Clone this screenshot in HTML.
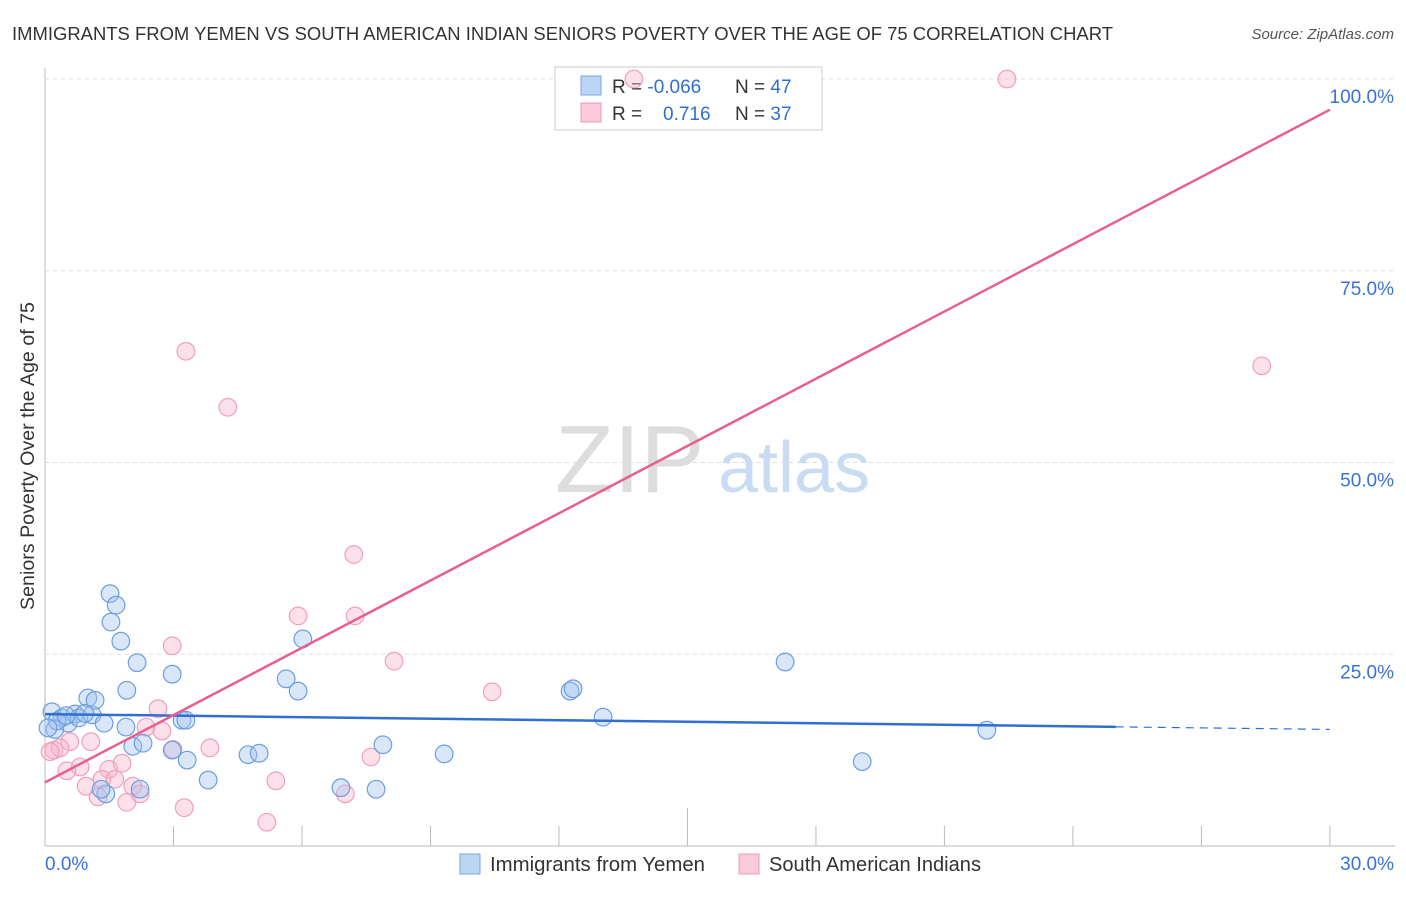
<!DOCTYPE html>
<html><head><meta charset="utf-8"><style>
body{margin:0;background:#fff;font-family:"Liberation Sans",sans-serif}
svg text{font-family:"Liberation Sans",sans-serif}
</style></head><body>
<svg width="1406" height="892">
<text x="12" y="40" font-size="18" fill="#333" textLength="1101" lengthAdjust="spacingAndGlyphs">IMMIGRANTS FROM YEMEN VS SOUTH AMERICAN INDIAN SENIORS POVERTY OVER THE AGE OF 75 CORRELATION CHART</text>
<text x="1394" y="39" font-size="15" fill="#555" text-anchor="end" font-style="italic">Source: ZipAtlas.com</text>
<text transform="translate(34,456) rotate(-90)" font-size="19" fill="#333" text-anchor="middle" textLength="308" lengthAdjust="spacingAndGlyphs">Seniors Poverty Over the Age of 75</text>
<g id="grid"></g>
<text x="555" y="492" font-size="96" fill="#ddd" font-family="Liberation Serif">ZIP</text>
<text x="718" y="492" font-size="72" fill="#c9dcf2">atlas</text>
<g>
<rect x="555" y="67" width="267" height="63" fill="#fff" stroke="#ccc"/>
<rect x="581" y="76" width="20" height="19" fill="#bcd5f5" stroke="#7aa6e0"/>
<rect x="581" y="103" width="20" height="19" fill="#fccbda" stroke="#ec9ab5"/>
<text x="612" y="93" font-size="19" fill="#333">R = <tspan fill="#2f6fd0">-0.066</tspan><tspan x="735">N = </tspan><tspan fill="#2f6fd0">47</tspan></text>
<text x="612" y="120" font-size="19" fill="#333">R = <tspan fill="#2f6fd0" x="663">0.716</tspan><tspan x="735">N = </tspan><tspan fill="#2f6fd0">37</tspan></text>
</g>
<g id="pts"></g>
<g id="lines"></g>
<g>
<rect x="460" y="854" width="20" height="20" fill="#bcd5f5" stroke="#7aa6e0"/>
<text x="490" y="871" font-size="20" fill="#333" textLength="215" lengthAdjust="spacingAndGlyphs">Immigrants from Yemen</text>
<rect x="739" y="854" width="20" height="20" fill="#fccbda" stroke="#ec9ab5"/>
<text x="769" y="871" font-size="20" fill="#333" textLength="212" lengthAdjust="spacingAndGlyphs">South American Indians</text>
</g>
<text x="45" y="870" font-size="19" fill="#3a73d0">0.0%</text>
<text x="1394" y="870" font-size="19" fill="#3a73d0" text-anchor="end">30.0%</text>
</svg>
<script>
const yTicks=[25,50,75,100];
const yTickLabels=["25.0%","50.0%","75.0%","100.0%"];
const xTicks=[3,6,9,12,15,18,21,24,27,30];
const blueX=[0.16,0.4,0.54,0.7,0.79,1.1,1.0,1.17,1.38,1.54,1.52,1.66,1.77,1.91,2.15,1.89,2.05,2.29,2.22,1.42,1.31,2.97,2.97,3.2,3.29,3.32,3.81,4.74,5.0,5.63,5.91,6.02,6.91,7.73,7.89,9.32,12.26,12.33,13.03,17.28,19.08,21.99,0.23,0.28,0.07,0.49,0.93];
const blueY=[17.5,16.7,16.0,17.2,16.7,17.1,19.3,19.0,16.0,29.2,32.9,31.4,26.7,20.3,23.9,15.5,13.0,13.4,7.4,6.8,7.4,22.4,12.5,16.4,16.4,11.2,8.6,11.9,12.1,21.8,20.2,27.0,7.6,7.4,13.2,12.0,20.2,20.5,16.8,24.0,11.0,15.1,15.2,16.3,15.4,17.0,17.3];
const pinkX=[3.29,4.27,7.21,5.91,7.24,2.97,8.15,10.44,2.64,2.36,2.73,0.58,1.07,0.21,0.35,0.82,0.51,0.96,1.24,1.49,1.33,1.63,1.8,1.91,2.05,2.22,2.99,3.85,3.25,5.39,5.18,7.01,7.61,22.46,28.41,13.75,0.12];
const pinkY=[64.5,57.2,38.0,30.0,30.0,26.1,24.1,20.1,17.9,15.5,15.0,13.6,13.6,12.5,12.8,10.3,9.8,7.8,6.4,10.0,8.7,8.7,10.8,5.7,7.8,6.8,12.6,12.8,5.0,8.5,3.1,6.8,11.6,100.0,62.6,100.0,12.3];
const blueTrend=[17.2,15.2];
const pinkTrend=[8.3,96.0];
const X=v=>45+v*42.83, Y=v=>846-v*7.67;
const NS="http://www.w3.org/2000/svg";
function mk(t,a,p){const e=document.createElementNS(NS,t);for(const k in a)e.setAttribute(k,a[k]);p.appendChild(e);return e;}
const grid=document.getElementById('grid');
mk('line',{x1:45,y1:68,x2:45,y2:846,stroke:'#bbb'},grid);
mk('line',{x1:45,y1:846,x2:1395,y2:846,stroke:'#bbb'},grid);
yTicks.forEach((t,i)=>{
 const l=mk('line',{x1:45,y1:Y(t),x2:1395,y2:Y(t),stroke:'#ddd','stroke-dasharray':'4,4'},grid);
 
 
 const tx=mk('text',{x:1394,y:Y(t)+24,'font-size':19,fill:'#3a73d0','text-anchor':'end'},grid);
 tx.textContent=yTickLabels[i];
 
 
});
xTicks.forEach(t=>{
 const l=mk('line',{x1:X(t),y1:t===15?808:826,x2:X(t),y2:846,stroke:'#bbb'},grid);
 
 
});
const pts=document.getElementById('pts');
pinkX.forEach((x,i)=>{
 const c=mk('circle',{cx:X(x),cy:Y(pinkY[i]),r:8.8,fill:'rgba(248,180,202,0.4)',stroke:'#f0a0ba','stroke-width':1.2},pts);
 
 
});
blueX.forEach((x,i)=>{
 const c=mk('circle',{cx:X(x),cy:Y(blueY[i]),r:8.8,fill:'rgba(160,196,240,0.4)',stroke:'#6d9ee0','stroke-width':1.2},pts);
 
 
});
const ln=document.getElementById('lines');
const bAt=x=>blueTrend[0]+(blueTrend[1]-blueTrend[0])*x/30;
let l1=mk('line',{x1:X(0),y1:Y(bAt(0)),x2:X(25),y2:Y(bAt(25)),stroke:'#2f6fd0','stroke-width':2.5},ln);


let l2=mk('line',{x1:X(25),y1:Y(bAt(25)),x2:X(30),y2:Y(bAt(30)),stroke:'#2f6fd0','stroke-width':1.2,'stroke-dasharray':'8,6'},ln);


let l3=mk('line',{x1:X(0),y1:Y(pinkTrend[0]),x2:X(30),y2:Y(pinkTrend[1]),stroke:'#e8608f','stroke-width':2.5},ln);


</script>
</body></html>
